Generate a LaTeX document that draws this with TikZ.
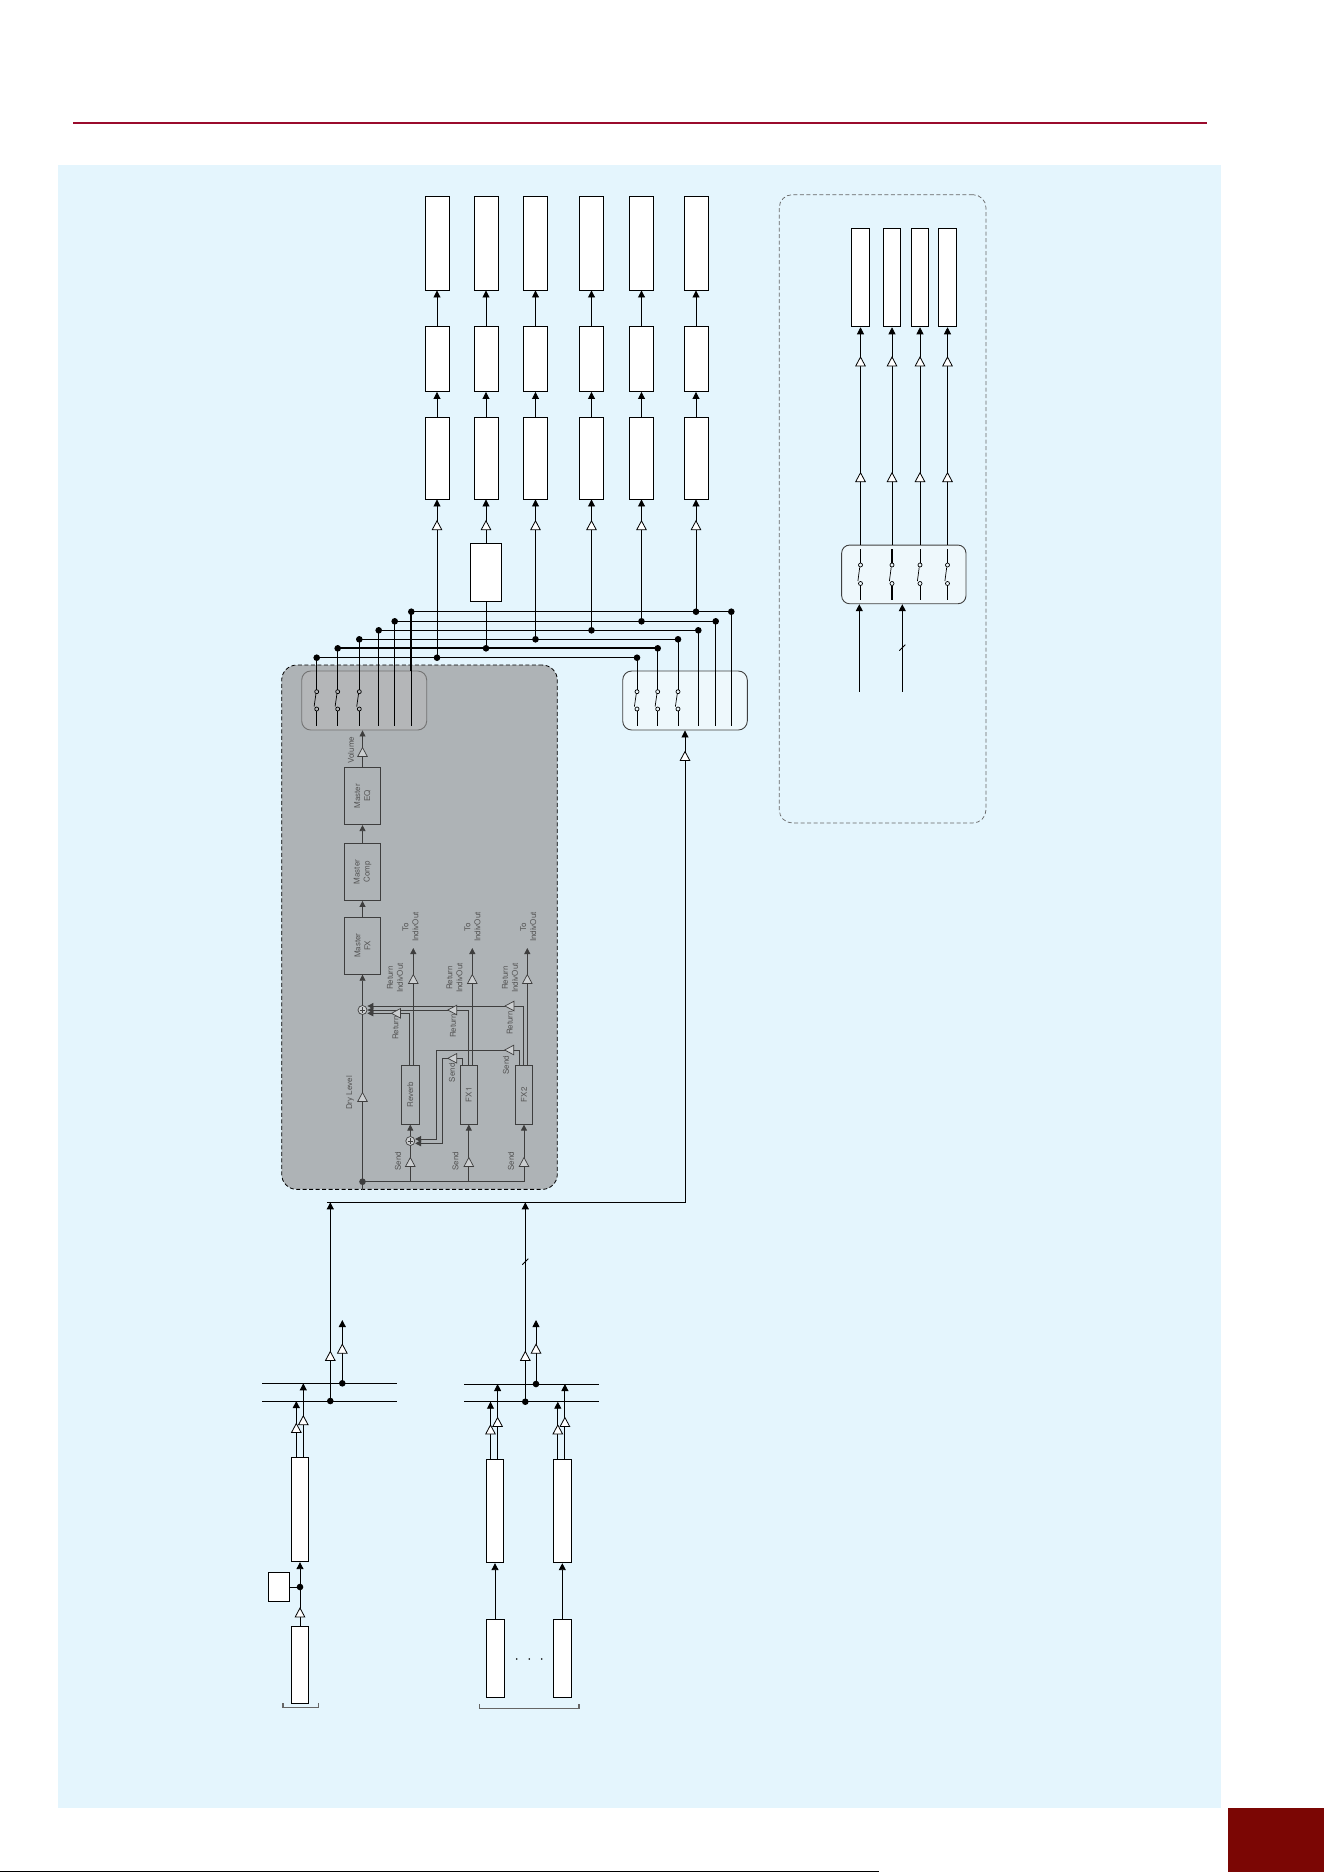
\documentclass[tikz,border=0pt]{standalone}
\usepackage{fontspec}
\setsansfont{TeX Gyre Heros}
\usetikzlibrary{arrows.meta,positioning}

\definecolor{bgblue}{HTML}{E4F5FD}
\definecolor{hdrred}{HTML}{9A0B2C}
\definecolor{tabred}{HTML}{7B0604}
\definecolor{dspgray}{HTML}{AEB3B6}
\definecolor{swgray}{HTML}{B4B6B8}
\definecolor{swfill}{HTML}{EEF8FC}
\definecolor{gline}{HTML}{3E3E3E}
\definecolor{gtext}{HTML}{555555}
\definecolor{gtri}{HTML}{CBCED0}

\tikzset{
  blk/.style={draw, fill=white, line width=0.9pt, inner sep=0pt, minimum width=24pt},
  gblk/.style={draw=gline, line width=0.8pt, inner sep=0pt, minimum width=18pt, minimum height=59pt},
  mblk/.style={draw=gline, line width=0.8pt, inner sep=0pt, minimum width=36pt, minimum height=57pt},
  swbox/.style={draw=black!75, line width=0.9pt, rounded corners=9pt, inner sep=0pt},
  grpbox/.style={draw, dashed, dash pattern=on 4pt off 2.5pt, line width=0.8pt, inner sep=0pt},
  sumnode/.style={circle, draw=gline, fill=gtri, line width=0.7pt, minimum size=9pt, inner sep=0pt,
    path picture={\draw[gline, line width=0.5pt]
      ([xshift=-2.6pt]path picture bounding box.center) -- ([xshift=2.6pt]path picture bounding box.center)
      ([yshift=-2.6pt]path picture bounding box.center) -- ([yshift=2.6pt]path picture bounding box.center);}},
  gtxt/.style={font=\sffamily\fontsize{8}{10}\selectfont, text=gtext, rotate=90, inner sep=0pt, align=center},
  thk/.style={line width=1.9pt},
  brk/.style={draw=black!60, line width=1.3pt},
  amp/.style={draw=black, fill=white, line width=0.8pt},
  ampu/.pic={\path[amp] (-4.8,4.5) -- (4.8,4.5) -- (0,-4.5) -- cycle;},
  ampl/.pic={\path[amp] (4.5,-4.8) -- (4.5,4.8) -- (-4.5,0) -- cycle;},
}

% switch contacts: x, upper y, lower y
\newcommand\swgap[3]{%
  \draw[line width=0.7pt] (#1,#2) circle[radius=2pt] (#1,#3) circle[radius=2pt];
  \draw[line width=0.7pt] (#1-0.8,#2+2.4) -- (#1-2.6,#3-2.4);}
\newcommand\slashmark[1]{%
  \draw[line width=0.8pt] ([shift={(-3pt,-3pt)}]#1) -- ([shift={(3pt,3pt)}]#1);}

\begin{document}
\begin{tikzpicture}[x=1pt, y=-1pt, line width=0.9pt, >={Triangle[length=7pt,width=7pt]}]
\useasboundingbox (0,0) rectangle (1324,1872);
\fill[bgblue] (58,165) rectangle (1221,1808);
\draw[hdrred, line width=1.8pt] (73,123) -- (1207,123);
\fill[tabred] (1228,1808) rectangle (1324,1872);
\draw[line width=1pt] (0,1871.3) -- (879,1871.3);

% containers
\node[grpbox, fill=dspgray, rounded corners=15pt, minimum width=275.6pt, minimum height=524.3pt] (dsp) at (419.5,927.2) {};
\node[grpbox, draw=black!60, line width=0.7pt, rounded corners=13pt, minimum width=206.7pt, minimum height=628.3pt] (fbk) at (882.6,508.8) {};
\node[swbox, draw=black!55, fill=swgray, minimum width=125pt, minimum height=59pt] (swL) at (364.2,700.5) {};
\node[swbox, fill=swfill, minimum width=124.6pt, minimum height=59pt] (swR) at (685,700.5) {};

% output columns
\foreach \x [count=\i] in {437,486,535.5,591.5,641.5,696} {
  \node[blk, minimum height=94pt] (out\i) at (\x,243) {};
  \node[blk, minimum height=65pt] (mix\i) at (\x,359) {};
  \node[blk, minimum height=82pt] (prc\i) at (\x,458) {};
  \draw[->] (prc\i) -- (mix\i);
  \draw[->] (mix\i) -- (out\i);
}
\node[blk, minimum width=30.4pt, minimum height=58pt] (hp) at (486,572.3) {};

% buses
\foreach \lx/\rx/\cx/\by [count=\j] in {316.7/637/437/657.7, 337.7/657.7/486/648.3,
    359.3/678/535.5/639.3, 378.7/698.3/591.5/630.3, 394.7/715.7/641.5/621.3, 411.3/731.3/696/611.7} {
  \coordinate (bl\j) at (\lx,\by);
  \coordinate (br\j) at (\rx,\by);
  \coordinate (bc\j) at (\cx,\by);
}
\foreach \j in {1,3,4,5,6} \draw (bl\j) -- (br\j);
\draw[thk] (bl2) -- (br2);
\draw[thk] (bl6) -- (bl6 |- swL.north);

\foreach \lx/\rx [count=\j] in {316.7/637, 337.7/657.7, 359.3/678, 378.7/698.3, 394.7/715.7, 411.3/731.3} {
  \ifnum\j<4
    \draw (bl\j) -- (\lx,689.7) (\lx,711) -- (\lx,725.7);
    \swgap{\lx}{691.7}{709}
    \draw (br\j) -- (\rx,689.7) (\rx,711) -- (\rx,725.7);
    \swgap{\rx}{691.7}{709}
  \else
    \draw (bl\j) -- (\lx,725.7);
    \draw (br\j) -- (\rx,725.7);
  \fi
}

% bus to outputs
\foreach \j in {1,3,4,5,6} \draw[->] (bc\j) -- (prc\j);
\draw (bc2) -- (hp);
\draw[->] (hp) -- (prc2);
\foreach \x in {437,486,535.5,591.5,641.5,696} \pic at (\x,525.3) {ampu};
\foreach \j in {1,...,6} \fill (bl\j) circle[radius=3.3pt] (br\j) circle[radius=3.3pt] (bc\j) circle[radius=3.3pt];

% DSP block
\begin{scope}[color=gline, line width=0.8pt, >={Triangle[length=6pt,width=6pt]},
    amp/.style={draw=gline, fill=gtri, line width=0.7pt}]
  \node[mblk] (mFX) at (362.5,945.8) {};
  \node[mblk, above=16pt of mFX] (mCmp) {};
  \node[mblk, above=18pt of mCmp] (mEQ) {};
  \node[gblk] (rvb) at (410.3,1094.7) {};
  \node[gblk, minimum width=17pt] (fx1) at (468.8,1094.7) {};
  \node[gblk, minimum width=17.4pt] (fx2) at (524,1094.7) {};
  \node[sumnode] (sA) at (362.5,1010) {};
  \node[sumnode] (sB) at (410.3,1141) {};
  \coordinate (gdot) at (362.5,1181.7);
  \coordinate (ind) at (0,948);
  \coordinate (s1k) at (442.3,1058.3);
  \coordinate (s2k) at (436.7,1050);

  \draw (gdot) -- (fx2 |- gdot);
  \draw (gdot) -- ++(0,8.5);
  \draw (gdot) -- (sA);
  \draw[->] (sA) -- (mFX);
  \draw[->] (mFX) -- (mCmp);
  \draw[->] (mCmp) -- (mEQ);
  \draw[->] (mEQ) -- (mEQ |- swL.south);
  \draw (sB |- gdot) -- (sB);
  \draw[->] (sB) -- (rvb);
  \draw[->] (fx1 |- gdot) -- (fx1);
  \draw[->] (fx2 |- gdot) -- (fx2);
  % returns
  \draw[->] ([xshift=-1pt]rvb.north) |- ([yshift=-3.3pt]sA.east);
  \draw[->] ([xshift=-0.5pt]fx1.north) |- (sA.east);
  \draw[->] ([xshift=-0.7pt]fx2.north) |- ([yshift=4pt]sA.east);
  % fx sends
  \draw[->] ([xshift=-6pt]fx1.north) |- (s1k) |- ([yshift=-2.3pt]sB.east);
  \draw[->] ([xshift=-4.7pt]fx2.north) |- (s2k) |- ([yshift=2pt]sB.east);
  % to indiv out
  \draw[->] ([xshift=3pt]rvb.north) -- ([xshift=3pt]rvb.north |- ind);
  \draw[->] ([xshift=3.5pt]fx1.north) -- ([xshift=3.5pt]fx1.north |- ind);
  \draw[->] ([xshift=3.3pt]fx2.north) -- ([xshift=3.3pt]fx2.north |- ind);
  \fill (gdot) circle[radius=3.3pt];

  \pic at (362.5,752) {ampu};
  \pic at (362.5,1097) {ampu};
  \foreach \x in {410.3,468.8,524} \pic at (\x,1162) {ampu};
  \foreach \x in {413.3,472.3,527.3} \pic at (\x,979) {ampu};
  \pic at (396,1013.3) {ampl};
  \pic at (452.3,1010) {ampl};
  \pic at (509.5,1006) {ampl};
  \pic at (452.3,1058.3) {ampl};
  \pic at (509.2,1050) {ampl};

  \node[gtxt] (tVol) at (351,750) {Volume};
  \node[gtxt] (tEQ) at (mEQ) {Master\\EQ};
  \node[gtxt] (tCmp) at (mCmp) {Master\\Comp};
  \node[gtxt] (tFXm) at (mFX) {Master\\FX};
  \node[gtxt] (tRvb) at (rvb) {Reverb};
  \node[gtxt] (tFX1) at (fx1) {FX1};
  \node[gtxt] (tFX2) at (fx2) {FX2};
  \node[gtxt] (tDry) at (350,1093) {Dry Level};
  \foreach \x [count=\k] in {410.5,472.5,528.3} \node[gtxt] (tTo\k) at (\x,927) {To\\IndivOut};
  \foreach \x [count=\k] in {395,454.5,510} \node[gtxt] (tRI\k) at (\x,978) {Return\\IndivOut};
  \node[gtxt] (tR1) at (395.5,1028) {Return};
  \node[gtxt] (tR2) at (453,1026) {Return};
  \node[gtxt] (tR3) at (509.7,1023) {Return};
  \node[gtxt] (tS1) at (452,1072.7) {Send};
  \node[gtxt] (tS2) at (506,1065) {Send};
  \foreach \x [count=\k] in {398,455.5,511} \node[gtxt] (tSd\k) at (\x,1161) {Send};
\end{scope}

% mix return into right switch
\coordinate (hl) at (327.3,1202.3);
\coordinate (fe) at (0,1320);
\draw[->] (hl) -| (swR.south);
\pic at (685,756) {ampu};

% input group A
\coordinate (aw1) at (262,1383.3); \coordinate (ae1) at (397,1383.3);
\coordinate (aw2) at (262,1401);   \coordinate (ae2) at (397,1401);
\draw (aw1) -- (ae1);
\draw (aw2) -- (ae2);
\node[blk, minimum width=17.4pt, minimum height=104.4pt] (chA) at (300,1509.5) {};
\node[blk, minimum width=17.4pt, minimum height=77pt] (srcA) at (300,1664.8) {};
\node[blk, minimum width=21pt, minimum height=29.4pt] (insA) at (278.8,1587) {};
\coordinate (jA) at (300,1587);
\draw (srcA) -- (jA);
\draw (insA) -- (jA);
\draw[->] (jA) -- (chA);
\fill (jA) circle[radius=3.3pt];
\pic at (300,1612.5) {ampu};
\draw[->] ([xshift=-3.7pt]chA.north) -- ([xshift=-3.7pt]chA.north |- aw2);
\draw[->] ([xshift=3.3pt]chA.north) -- ([xshift=3.3pt]chA.north |- aw1);
\pic at (296.3,1428) {ampu};
\pic at (303.3,1420.3) {ampu};
\draw[brk] ([xshift=-8pt]srcA.south west) ++(0,-0.7) -- ++(0,4.3) -- ++(35.4,0) -- ++(0,-4.3);
\coordinate (dA1) at (342.3,1383.3);
\coordinate (dA2) at (330.3,1401);
\draw[->] (dA1) -- (dA1 |- fe);
\draw[->] (dA2) -- (dA2 |- hl);
\pic at (342.3,1348.7) {ampu};
\pic at (330.3,1356) {ampu};
\fill (dA1) circle[radius=3.3pt] (dA2) circle[radius=3.3pt];

% input group B
\coordinate (bw1) at (464,1384);   \coordinate (be1) at (599,1384);
\coordinate (bw2) at (464,1401.7); \coordinate (be2) at (599,1401.7);
\draw (bw1) -- (be1);
\draw (bw2) -- (be2);
\foreach \x/\nm in {495/chB,562.3/chC} {
  \node[blk, minimum width=17.8pt, minimum height=103.4pt] (\nm) at (\x,1511) {};
  \node[blk, minimum width=18pt, minimum height=78pt] (src\nm) at (\x,1658.3) {};
  \draw[->] (src\nm) -- (\nm);
  \draw[->] ([xshift=-4.5pt]\nm.north) -- ([xshift=-4.5pt]\nm.north |- bw2);
  \draw[->] ([xshift=2.6pt]\nm.north) -- ([xshift=2.6pt]\nm.north |- bw1);
  \pic at ([xshift=-4.5pt]\nm.north |- 0,1429.5) {ampu};
  \pic at ([xshift=2.6pt]\nm.north |- 0,1422) {ampu};
}
\foreach \x in {516.7,529.3,541.7} \fill (\x,1659) circle[radius=0.9pt];
\draw[brk] (479.3,1704) -- (479.3,1708.3) -- (579,1708.3) -- (579,1704);
\coordinate (dB1) at (536,1384);
\coordinate (dB2) at (525.3,1401.7);
\draw[->] (dB1) -- (dB1 |- fe);
\draw[->] (dB2) -- (dB2 |- hl);
\slashmark{525.3,1261.7}
\pic at (536,1348.7) {ampu};
\pic at (525.3,1356) {ampu};
\fill (dB1) circle[radius=3.3pt] (dB2) circle[radius=3.3pt];

% right group
\node[swbox, rounded corners=8pt, fill=swfill, minimum width=124.3pt, minimum height=58.7pt] (swF) at (903.8,574.4) {};
\foreach \x [count=\k] in {860.5,892,920,947.5} {
  \node[blk, minimum width=17.6pt, minimum height=98.6pt] (fo\k) at (\x,277.5) {};
  \draw[->] (fo\k |- swF.north) -- (fo\k);
  \pic at (\x,477.2) {ampu};
  \pic at (\x,361.5) {ampu};
  \ifnum\k<3
    \draw[thk] (\x,549.1) -- (\x,563) (\x,585.5) -- (\x,599.5);
  \else
    \draw (\x,549.1) -- (\x,563) (\x,585.5) -- (\x,599.5);
  \fi
  \swgap{\x}{565}{583.5}
}
\coordinate (fi1) at (859.3,691.7);
\coordinate (fi2) at (902.3,691.7);
\draw[->] (fi1) -- (fi1 |- swF.south);
\draw[->] (fi2) -- (fi2 |- swF.south);
\slashmark{902.3,647.7}
\end{tikzpicture}
\end{document}
